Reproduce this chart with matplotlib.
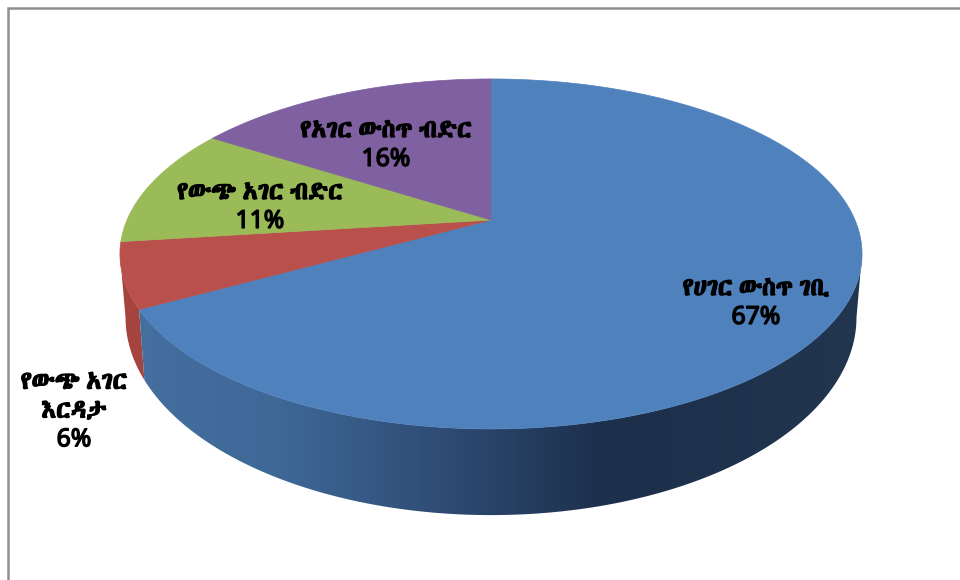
import numpy as np
import matplotlib
matplotlib.use("Agg")
import matplotlib.pyplot as plt
import matplotlib.patheffects as pe
from matplotlib import font_manager as fm
from matplotlib.colors import LinearSegmentedColormap
from matplotlib.ft2font import FT2Font
from matplotlib.patches import Polygon

# Data
labels = ["የሀገር ውስጥ ገቢ", "የውጭ አገር\nእርዳታ", "የውጭ አገር ብድር", "የአገር ውስጥ ብድር"]
shares = [67, 6, 11, 16]
top_colors = ["#4f81bd", "#b9504c", "#9bbb59", "#7f60a0"]
side_color_red = "#a5433f"
label_pos = [(756, 303), (74, 411), (260, 207), (386, 145)]


# look for a font that really has Ethiopic letters
def find_ethiopic():
    found = []
    for f in fm.fontManager.ttflist:
        try:
            if 0x12E8 in FT2Font(f.fname).get_charmap():
                found.append(f.name)
        except Exception:
            pass
    return sorted(set(found))


# Latin digits come from Noto Sans, the letters fall through to the Ethiopic font
families = ["Noto Sans"] + find_ethiopic()[:1] + ["DejaVu Sans"]

fig = plt.figure(figsize=(9.6, 5.8), dpi=100)
ax = fig.add_axes([0, 0, 1, 1])
ax.set_xlim(0, 960)
ax.set_ylim(580, 0)
ax.axis("off")

# Chart border, only left and top are inside the crop
ax.plot([8, 8, 960], [580, 8, 8], color="#8f8f8f", lw=1.8, solid_joinstyle="miter")

# Perspective of the pie
cx, apex_y = 491, 220
A, B, k = 364, 168.4, 0.194
bottom_sx, bottom_sy, bottom_apex = 0.985, 1.13, 279
left_tangent, right_tangent = 258.8, 101.2


def rim(theta, bottom=False):
    # theta in degrees, clockwise from 12 o'clock
    t = np.radians(theta)
    X, Y = np.sin(t), np.cos(t)
    w = 1 + k * Y
    x, y = A * X / w, -B * Y / w
    if bottom:
        return cx + bottom_sx * x, bottom_apex + bottom_sy * y
    return cx + x, apex_y + y


edges = np.cumsum([0] + shares) / sum(shares) * 360

# Side walls, red first and then blue with its gradient
rt = np.linspace(edges[1], left_tangent, 40)
xt, yt = rim(rt)
xb, yb = rim(rt, True)
ax.add_patch(Polygon(np.r_[np.c_[xt, yt], np.c_[xb, yb][::-1]], fc=side_color_red, ec="none", zorder=2))

bt = np.linspace(right_tangent, edges[1], 200)
xt, yt = rim(bt)
xb, yb = rim(bt, True)
wall = Polygon(np.r_[np.c_[xt, yt], np.c_[xb, yb][::-1]], fc="none", ec="none", transform=ax.transData)
ax.add_patch(wall)
wall_cmap = LinearSegmentedColormap.from_list(
    "wall",
    [(0.0, "#446f9f"), (0.2, "#3f6897"), (0.39, "#31507a"), (0.65, "#1c2f4b"), (1.0, "#22364f")],
)
img = ax.imshow(
    np.linspace(0, 1, 400)[None, :],
    extent=[130, 865, 580, 0],
    cmap=wall_cmap,
    aspect="auto",
    zorder=3,
)
img.set_clip_path(wall)
ax.set_xlim(0, 960)
ax.set_ylim(580, 0)

# Top faces
for i, c in enumerate(top_colors):
    t = np.linspace(edges[i], edges[i + 1], 200)
    x, y = rim(t)
    pts = np.r_[[[cx, apex_y]], np.c_[x, y]]
    ax.add_patch(Polygon(pts, fc=c, ec=c, lw=0.5, zorder=4))

# Labels
for name, share, (lx, ly) in zip(labels, shares, label_pos):
    ax.text(lx, ly, f"{name}\n{share}%", ha="center", va="center", fontsize=17.8,
            fontweight="bold", family=families, color="black", linespacing=1.2, zorder=5,
            path_effects=[pe.withStroke(linewidth=1.0, foreground="black")])

fig.savefig("out.png", dpi=100)
